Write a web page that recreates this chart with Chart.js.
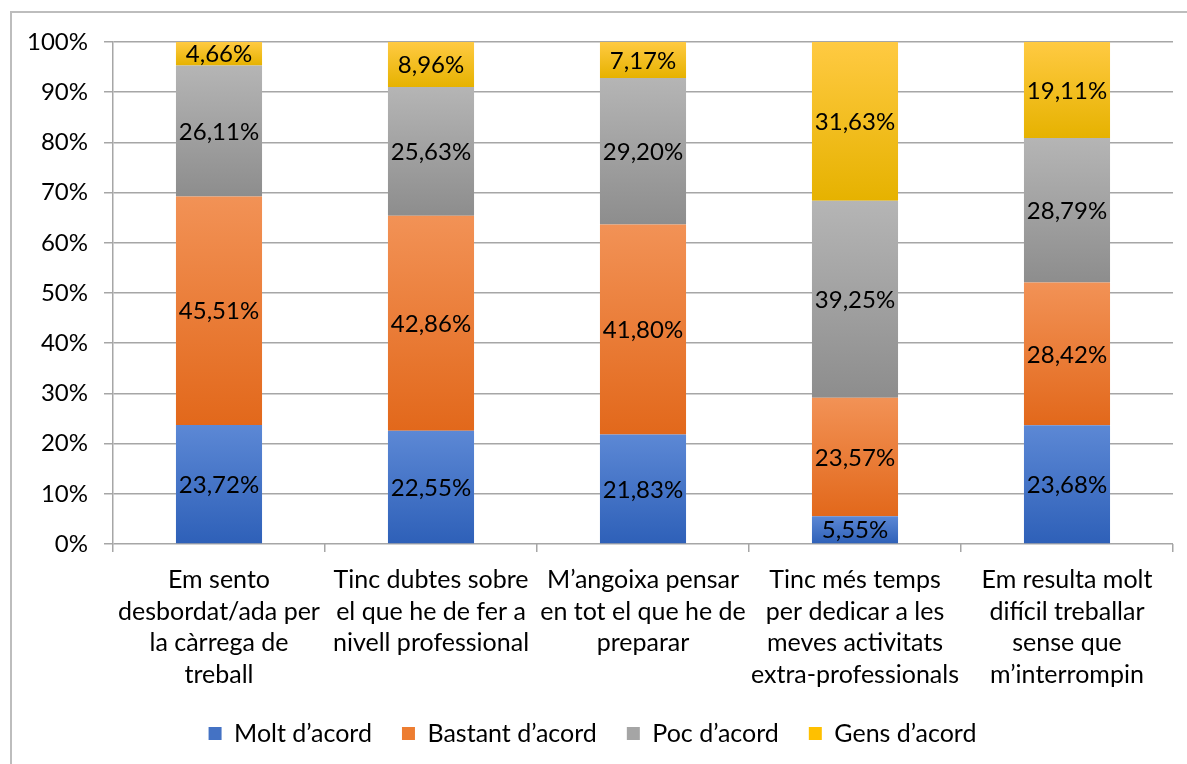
<!DOCTYPE html>
<html>
<head>
<meta charset="utf-8">
<script src="https://cdn.jsdelivr.net/npm/chart.js@4/dist/chart.umd.min.js"></script>
<style>
  html, body { margin: 0; padding: 0; background: #ffffff; }
  #wrap { position: relative; width: 1187px; height: 764px; overflow: hidden; }
  #frame { position: absolute; left: 10px; top: 11px; width: 2000px; height: 2000px;
           border-left: 2px solid #bdbdbd; border-top: 2px solid #bdbdbd; box-sizing: border-box; }
  canvas { position: absolute; left: 0; top: 0; }
</style>
</head>
<body>
<div id="wrap">
  <div id="frame"></div>
  <canvas id="c" width="1187" height="764"></canvas>
</div>
<script>
const categories = [
  ["Em sento", "desbordat/ada per", "la càrrega de", "treball"],
  ["Tinc dubtes sobre", "el que he de fer a", "nivell professional"],
  ["M’angoixa pensar", "en tot el que he de", "preparar"],
  ["Tinc més temps", "per dedicar a les", "meves activitats", "extra-professionals"],
  ["Em resulta molt", "difícil treballar", "sense que", "m’interrompin"]
];
const seriesNames = ["Molt d’acord", "Bastant d’acord", "Poc d’acord", "Gens d’acord"];
const moltAcord    = [23.72, 22.55, 21.83, 5.55, 23.68];
const bastantAcord = [45.51, 42.86, 41.80, 23.57, 28.42];
const pocAcord     = [26.11, 25.63, 29.20, 39.25, 28.79];
const gensAcord    = [4.66, 8.96, 7.17, 31.63, 19.11];
const yTicks = [0, 10, 20, 30, 40, 50, 60, 70, 80, 90, 100];

const seriesList = [moltAcord, bastantAcord, pocAcord, gensAcord];
const colorTop = ['#5c88d5', '#f29256', '#b5b5b5', '#ffca42'];
const colorBot = ['#2e60b8', '#e2681b', '#8d8d8d', '#e6b200'];
const colorMid = ['#4472c4', '#ed7d31', '#a5a5a5', '#ffc000'];

const FONT = 'Lato, Calibri, Carlito, sans-serif';

function segGradient(dsIndex) {
  return (ctx) => {
    const chart = ctx.chart;
    const area = chart.chartArea;
    if (!area || ctx.type !== 'data' || !chart.scales.y) return colorMid[dsIndex];
    const i = ctx.dataIndex;
    let start = 0;
    for (let k = 0; k < dsIndex; k++) start += seriesList[k][i];
    const end = start + seriesList[dsIndex][i];
    const y0 = chart.scales.y.getPixelForValue(end);
    const y1 = chart.scales.y.getPixelForValue(start);
    if (!isFinite(y0) || !isFinite(y1) || y0 === y1) return colorMid[dsIndex];
    const g = chart.ctx.createLinearGradient(0, y0, 0, y1);
    g.addColorStop(0, colorTop[dsIndex]);
    g.addColorStop(1, colorBot[dsIndex]);
    return g;
  };
}

const datasets = seriesList.map((vals, d) => ({
  label: seriesNames[d],
  data: vals,
  backgroundColor: segGradient(d),
  borderWidth: 0,
  categoryPercentage: 1.0,
  barPercentage: 0.406
}));

const valueLabels = {
  id: 'valueLabels',
  afterDatasetsDraw(chart) {
    const c = chart.ctx;
    c.save();
    c.font = '24px ' + FONT;
    c.fillStyle = '#000000';
    c.textAlign = 'center';
    c.textBaseline = 'middle';
    chart.data.datasets.forEach((ds, d) => {
      const meta = chart.getDatasetMeta(d);
      meta.data.forEach((el, i) => {
        const v = ds.data[i];
        const txt = v.toFixed(2).replace('.', ',') + '%';
        const yc = (el.y + el.base) / 2 + 1;
        c.fillText(txt, el.x, yc);
      });
    });
    c.restore();
  }
};

new Chart(document.getElementById('c'), {
  type: 'bar',
  data: { labels: categories, datasets },
  options: {
    responsive: false,
    devicePixelRatio: 1,
    animation: false,
    layout: { padding: { left: 12, right: 14, top: 42, bottom: 8 } },
    plugins: {
      tooltip: { enabled: false },
      legend: {
        position: 'bottom',
        labels: {
          font: { family: FONT, size: 25 },
          color: '#000000',
          boxWidth: 13,
          boxHeight: 13,
          padding: 30,
          generateLabels: (chart) => chart.data.datasets.map((ds, d) => ({
            text: ds.label,
            fillStyle: colorMid[d],
            strokeStyle: colorMid[d],
            lineWidth: 0,
            hidden: false,
            datasetIndex: d
          }))
        }
      }
    },
    scales: {
      x: {
        stacked: true,
        offset: true,
        afterFit: (s) => { s.height = 147; },
        grid: { display: true, drawOnChartArea: false, drawTicks: true, tickLength: 8, color: '#a6a6a6', lineWidth: 1.5, offset: true },
        border: { display: false },
        ticks: {
          color: '#000000',
          font: { family: FONT, size: 25, lineHeight: 1.27 },
          padding: 12,
          maxRotation: 0,
          autoSkip: false
        }
      },
      y: {
        stacked: true,
        min: 0,
        max: 100,
        afterFit: (s) => { s.width = 101; },
        afterBuildTicks: (s) => { s.ticks = yTicks.map(v => ({ value: v })); },
        grid: { color: '#a6a6a6', lineWidth: 1.5, tickLength: 9 },
        border: { display: true, color: '#a6a6a6', width: 1.5 },
        ticks: {
          color: '#000000',
          font: { family: FONT, size: 24 },
          padding: 16,
          callback: (v) => v + '%'
        }
      }
    }
  },
  plugins: [valueLabels]
});
</script>
</body>
</html>
